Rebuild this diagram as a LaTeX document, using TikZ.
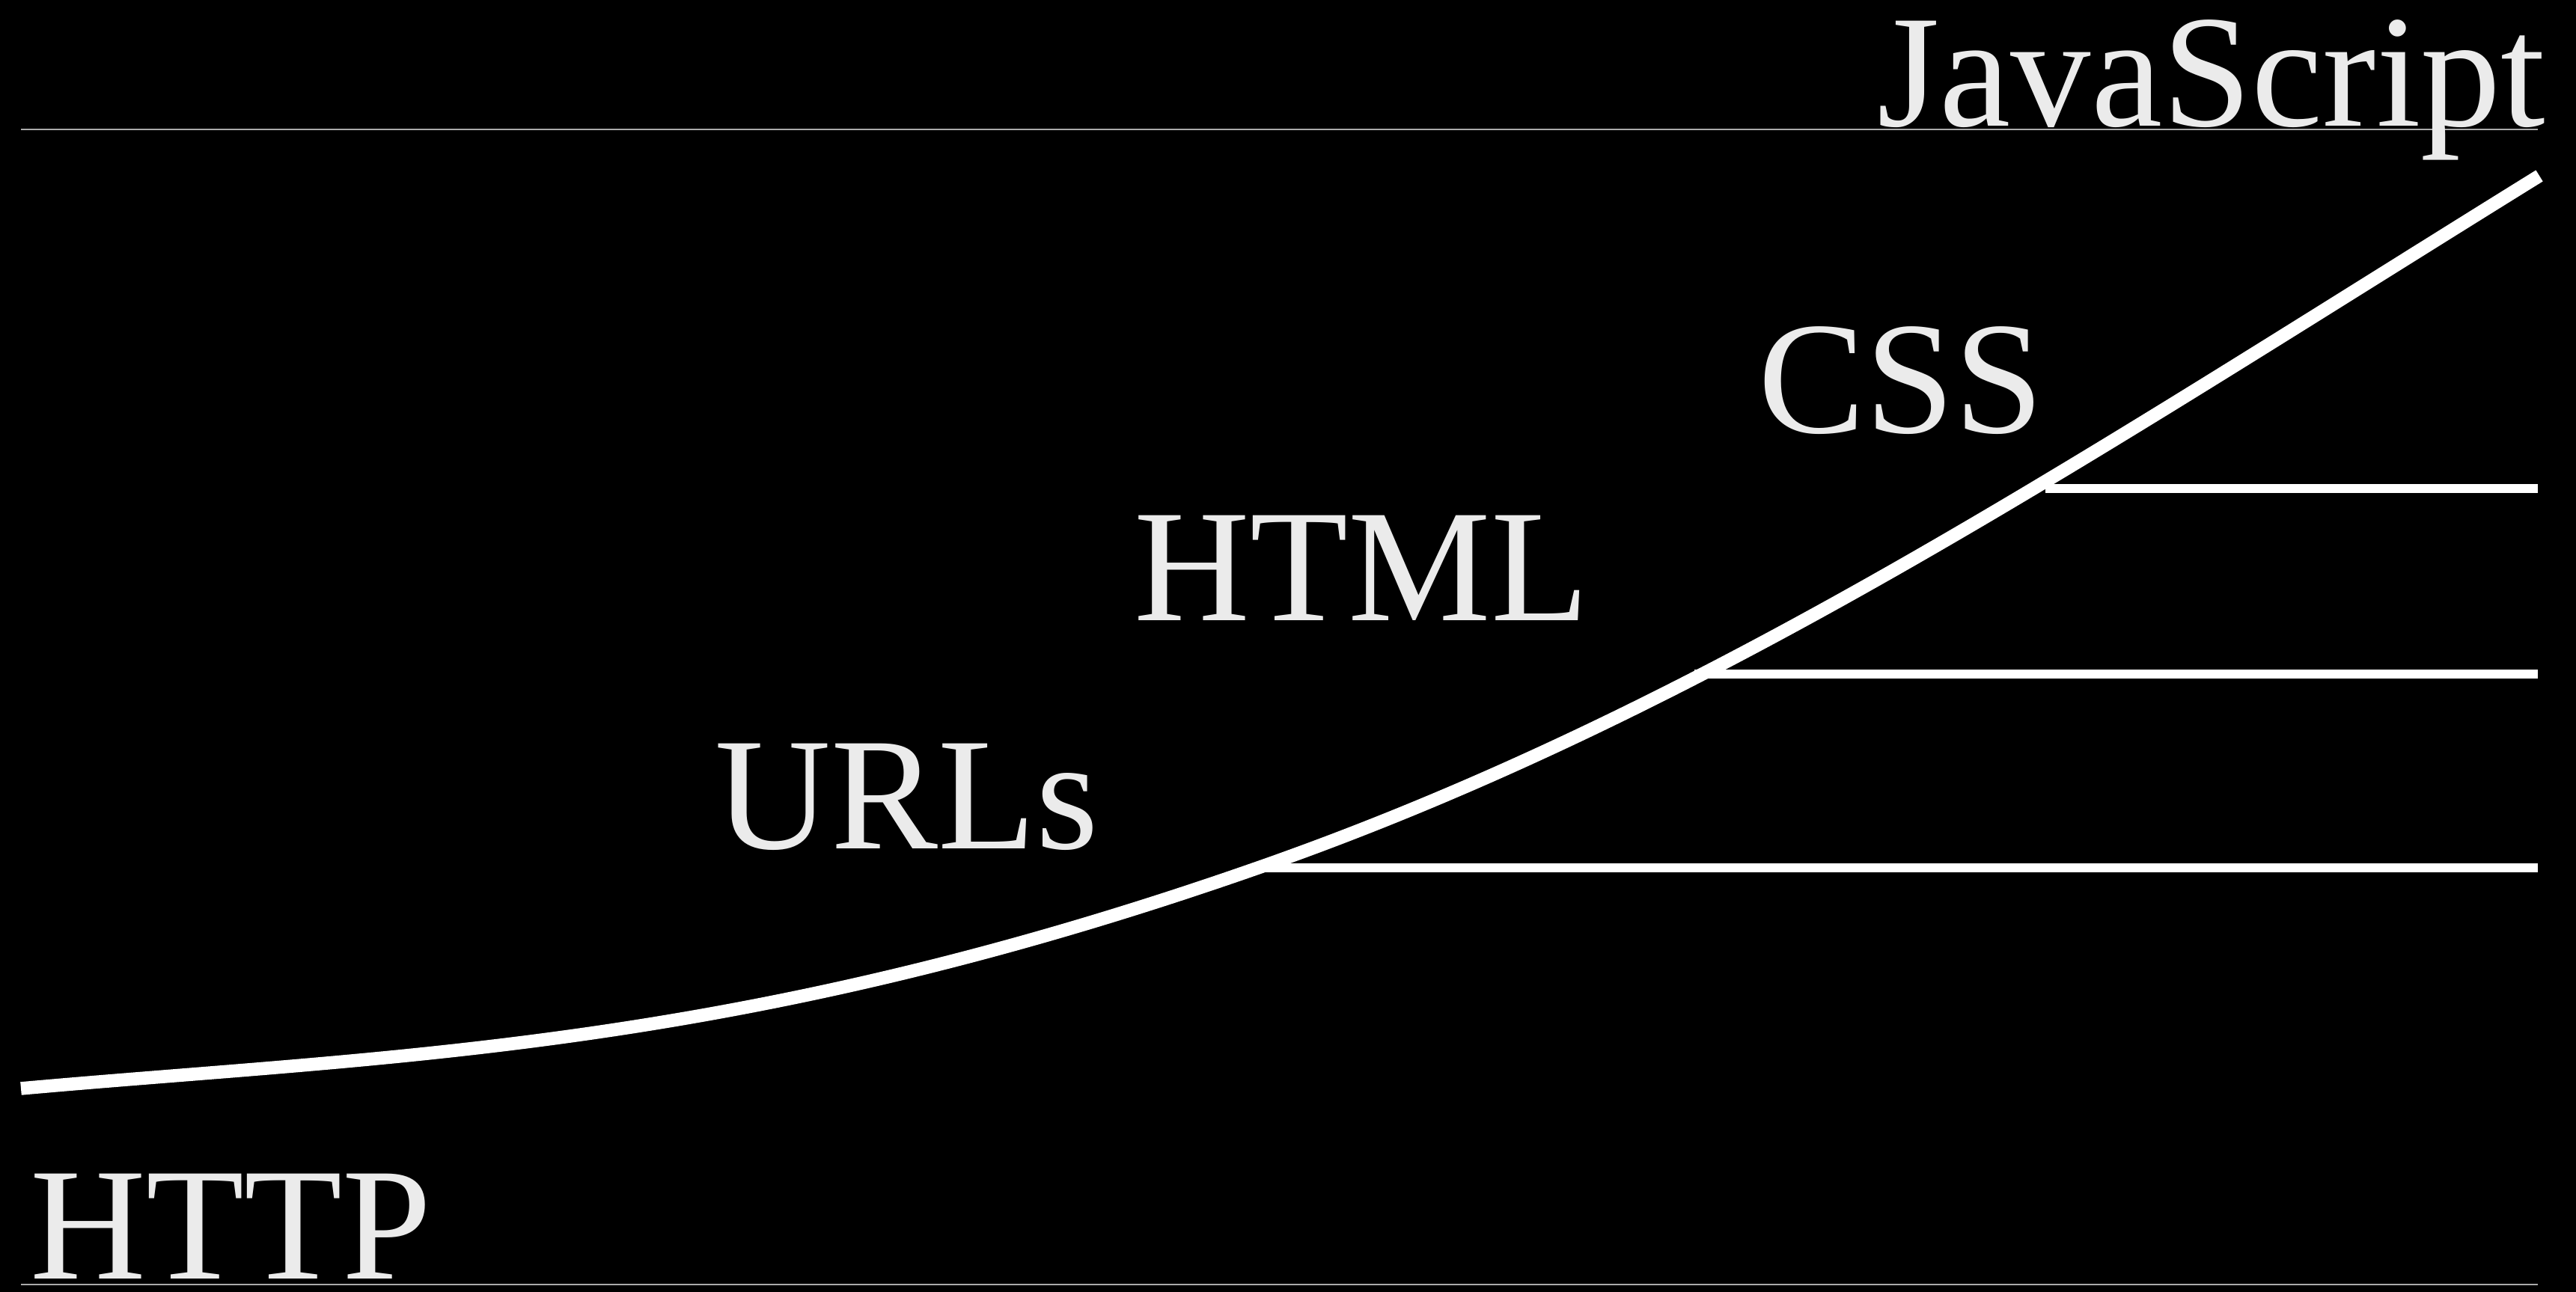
\documentclass[tikz,border=0pt]{standalone}
\usepackage{fontspec}
\setmainfont{Liberation Serif}
\definecolor{paper}{HTML}{000000}
\definecolor{ink}{HTML}{EBEBEB}
\definecolor{rulegray}{HTML}{AAAAAA}

\begin{document}
\begin{tikzpicture}[
    tech/.style={text=ink,inner sep=0pt,font=\fontsize{61}{61}\selectfont},
    baseline rule/.style={rulegray,line width=0.8pt},
    growth/.style={white,line width=5pt},
    layer/.style={white,line width=3.6pt}]
  \fill[paper] (0,0) rectangle (34.42,17.27);
  \useasboundingbox (0,0) rectangle (34.42,17.27);

  % top and bottom rules
  \draw[baseline rule] (0.28,15.54) -- (33.91,15.54);
  \draw[baseline rule] (0.28,0.10) -- (33.91,0.10);

  \coordinate (start) at (0.28,2.72);
  \coordinate (urls-on) at (16.81,5.67);
  \coordinate (html-on) at (22.64,8.26);
  \coordinate (css-on) at (27.33,10.74);
  \coordinate (top) at (33.93,14.92);
  \coordinate (urls-end) at (33.91,5.67);
  \coordinate (html-end) at (33.91,8.26);
  \coordinate (css-end) at (33.91,10.74);

  % the curve
  \draw[growth] (start) .. controls (5.28,3.17) and (9.81,3.22) .. (urls-on)
    .. controls (22.81,7.77) and (27.93,11.20) .. (top);

  \draw[layer] (urls-on) -- (urls-end);
  \draw[layer] (html-on) -- (html-end);
  \draw[layer] (css-on) -- (css-end);

  % labels
  \node[tech,anchor=base west] (http) at (0.40,0.17) {HTTP};
  \node[tech,anchor=base west] (urls) at (9.55,5.92) {URLs};
  \node[tech,anchor=base west] (html) at (15.15,8.97) {HTML};
  \node[tech,anchor=base west] (css) at (23.49,11.48) {CSS};
  \node[tech,anchor=base east] (js) at (34.02,15.58) {JavaScript};
\end{tikzpicture}
\end{document}
